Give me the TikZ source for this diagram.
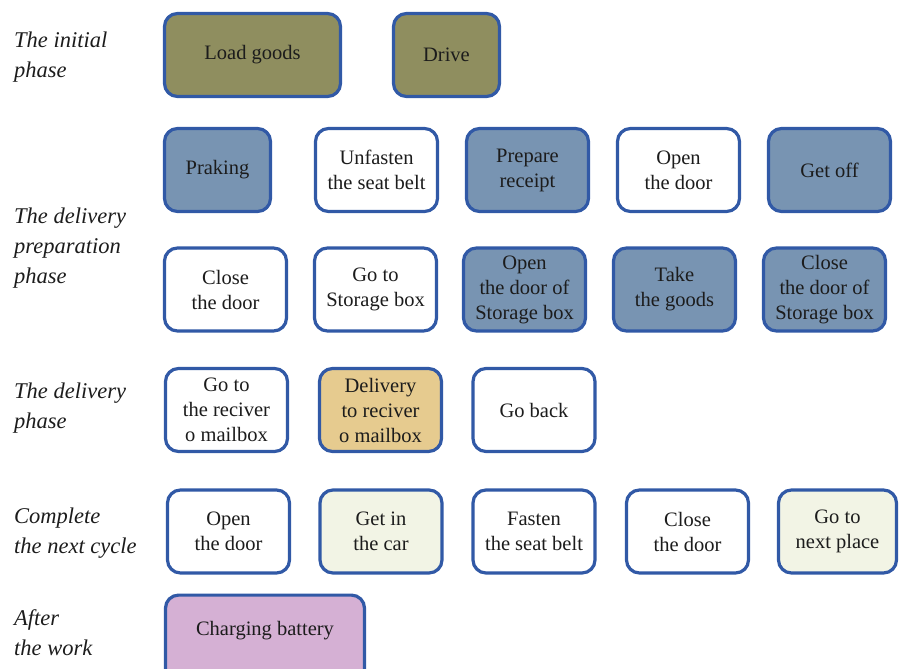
\documentclass[tikz,border=0pt]{standalone}
\usepackage{fontspec}
\setmainfont{Liberation Serif}
\definecolor{edgeblue}{HTML}{3159A6}
\definecolor{olive}{HTML}{8F8E5F}
\definecolor{steel}{HTML}{7894B2}
\definecolor{tan}{HTML}{E6CB8F}
\definecolor{cream}{HTML}{F2F4E5}
\definecolor{lilac}{HTML}{D5B0D4}
\definecolor{ink}{HTML}{1C1C1C}
\tikzset{
  task/.style={draw=edgeblue, line width=3.2pt, rounded corners=13pt,
    fill=white, text=ink, align=center, inner sep=0pt,
    minimum width=122pt, minimum height=83pt,
    font=\fontsize{20.5}{25}\selectfont},
  olivebox/.style={task, fill=olive},
  steelbox/.style={task, fill=steel},
  tanbox/.style={task, fill=tan},
  creambox/.style={task, fill=cream},
  lilacbox/.style={task, fill=lilac},
  phase/.style={anchor=west, align=left, inner sep=0pt, text=ink,
    font=\fontsize{22.5}{30}\selectfont\itshape}
}
\begin{document}
\begin{tikzpicture}[x=1pt, y=-1pt]
\useasboundingbox (0,0) rectangle (900,669);

% phase captions
\node[phase] (p1) at (14,57)    {The initial\\phase};
\node[phase] (p2) at (14,248)   {The delivery\\preparation\\phase};
\node[phase] (p3) at (14,408)   {The delivery\\phase};
\node[phase] (p4) at (14,533)   {Complete\\the next cycle};
\node[phase] (p5) at (14,632.5) {After\\the work};

% initial phase
\node[olivebox, minimum width=176pt] (load)  at (252.5,55) {Load goods};
\node[olivebox, minimum width=106pt] (drive) at (446.5,55) {Drive};

% delivery preparation phase, first row
\node[steelbox, minimum width=106pt] (park) at (217.5,170) {Praking};
\node[task]     (unfasten) at (376.5,170) {Unfasten\\the seat belt};
\node[steelbox] (receipt)  at (527.5,170) {Prepare\\receipt};
\node[task]     (opendoor) at (678.5,170) {Open\\the door};
\node[steelbox] (getoff)   at (829.5,170) {Get off};

% delivery preparation phase, second row
\node[task]     (closedoor) at (225.5,289.5) {Close\\the door};
\node[task]     (tobox)     at (375.5,289.5) {Go to\\Storage box};
\node[steelbox] (openbox)   at (524.5,289.5) {Open\\the door of\\Storage box};
\node[steelbox] (take)      at (674.5,289.5) {Take\\the goods};
\node[steelbox] (closebox)  at (824.5,289.5) {Close\\the door of\\Storage box};

% delivery phase
\node[task]    (toreceiver) at (226.5,410) {Go to\\the reciver\\o mailbox};
\node[tanbox]  (deliver)    at (380.5,410) {Delivery\\to reciver\\o mailbox};
\node[task]    (goback)     at (534,410)   {Go back};

% next cycle
\node[task]     (opendoor2)  at (228.5,531.5) {Open\\the door};
\node[creambox] (getin)      at (381,531.5)   {Get in\\the car};
\node[task]     (fasten)     at (534,531.5)   {Fasten\\the seat belt};
\node[task]     (closedoor2) at (687.5,531.5) {Close\\the door};
\node[creambox, minimum width=118pt] (nextplace) at (837.5,531.5) {Go to\\next place};

% after the work
\node[lilacbox, minimum width=199pt, minimum height=0pt,
      text height=40pt, text depth=47pt, anchor=north] (charge)
      at (265,593.5) {Charging battery};
\end{tikzpicture}
\end{document}
